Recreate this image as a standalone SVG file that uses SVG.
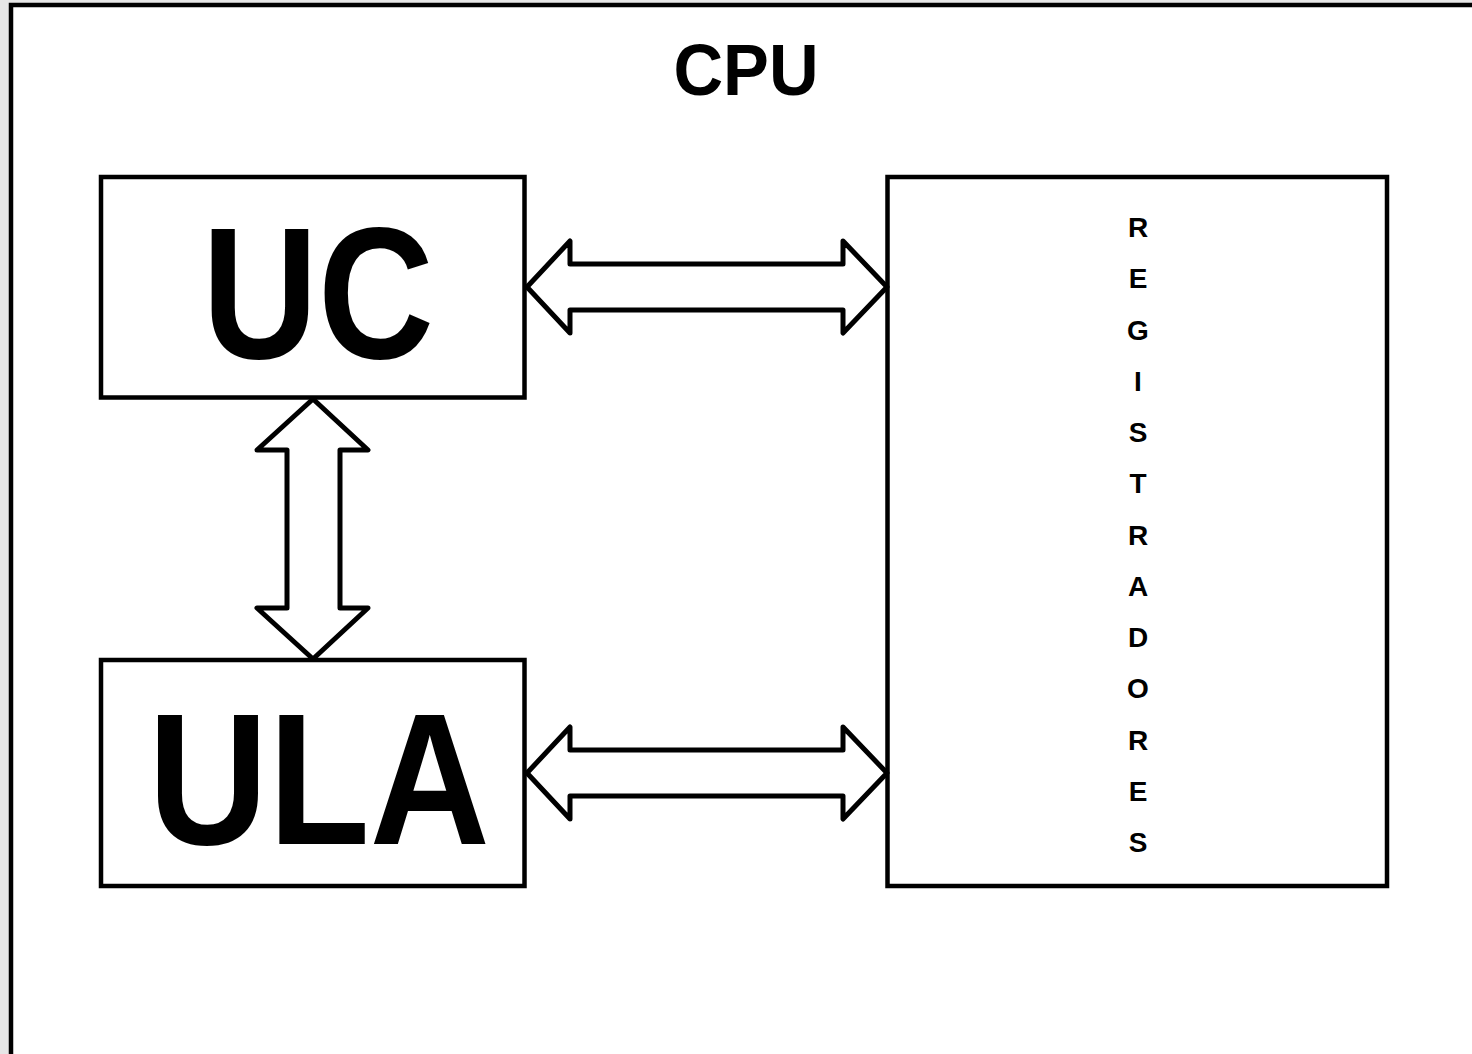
<svg xmlns="http://www.w3.org/2000/svg" width="1472" height="1054" viewBox="0 0 1472 1054">
<style>
.box{fill:#fff;stroke:#000;stroke-width:4.5}
.arr{fill:#fff;stroke:#000;stroke-width:5;stroke-linejoin:round}
.t{font-family:"Liberation Sans",Arial,sans-serif;font-weight:bold;fill:#000;text-anchor:middle}
.r{font-family:"Liberation Sans",Arial,sans-serif;font-weight:bold;fill:#000;text-anchor:middle;font-size:28px}
</style>
<rect x="0" y="0" width="1472" height="1054" fill="#e6e6e6"/>
<g id="cpu">
<rect x="11" y="5" width="1500" height="1100" fill="#fff" stroke="#000" stroke-width="4.5"/>
<text class="t" x="746" y="95" font-size="72" textLength="145" lengthAdjust="spacingAndGlyphs">CPU</text>
</g>
<g id="uc">
<rect class="box" x="101" y="177" width="423.5" height="220.5"/>
<text class="t" x="318" y="358" font-size="188" textLength="232" lengthAdjust="spacingAndGlyphs">UC</text>
</g>
<g id="ula">
<rect class="box" x="101" y="660" width="423.5" height="226"/>
<text class="t" x="319" y="844" font-size="188" textLength="342" lengthAdjust="spacingAndGlyphs">ULA</text>
</g>
<g id="registradores">
<rect class="box" x="887.5" y="177" width="499.5" height="709"/>
<text class="r" x="1138" y="237">R</text>
<text class="r" x="1138" y="288.25">E</text>
<text class="r" x="1138" y="339.5">G</text>
<text class="r" x="1138" y="390.75">I</text>
<text class="r" x="1138" y="442">S</text>
<text class="r" x="1138" y="493.25">T</text>
<text class="r" x="1138" y="544.5">R</text>
<text class="r" x="1138" y="595.75">A</text>
<text class="r" x="1138" y="647">D</text>
<text class="r" x="1138" y="698.25">O</text>
<text class="r" x="1138" y="749.5">R</text>
<text class="r" x="1138" y="800.75">E</text>
<text class="r" x="1138" y="852">S</text>
</g>
<g id="connectors">
<polygon class="arr" points="527,287 570,241 570,264 843,264 843,241 887,287 843,333 843,310 570,310 570,333"/>
<polygon class="arr" points="527,773 570,727 570,750 843,750 843,727 887,773 843,819 843,796 570,796 570,819"/>
<polygon class="arr" points="313,399 368,450 340,450 340,608 368,608 313,659 257,608 287,608 287,450 257,450"/>
</g>
</svg>
